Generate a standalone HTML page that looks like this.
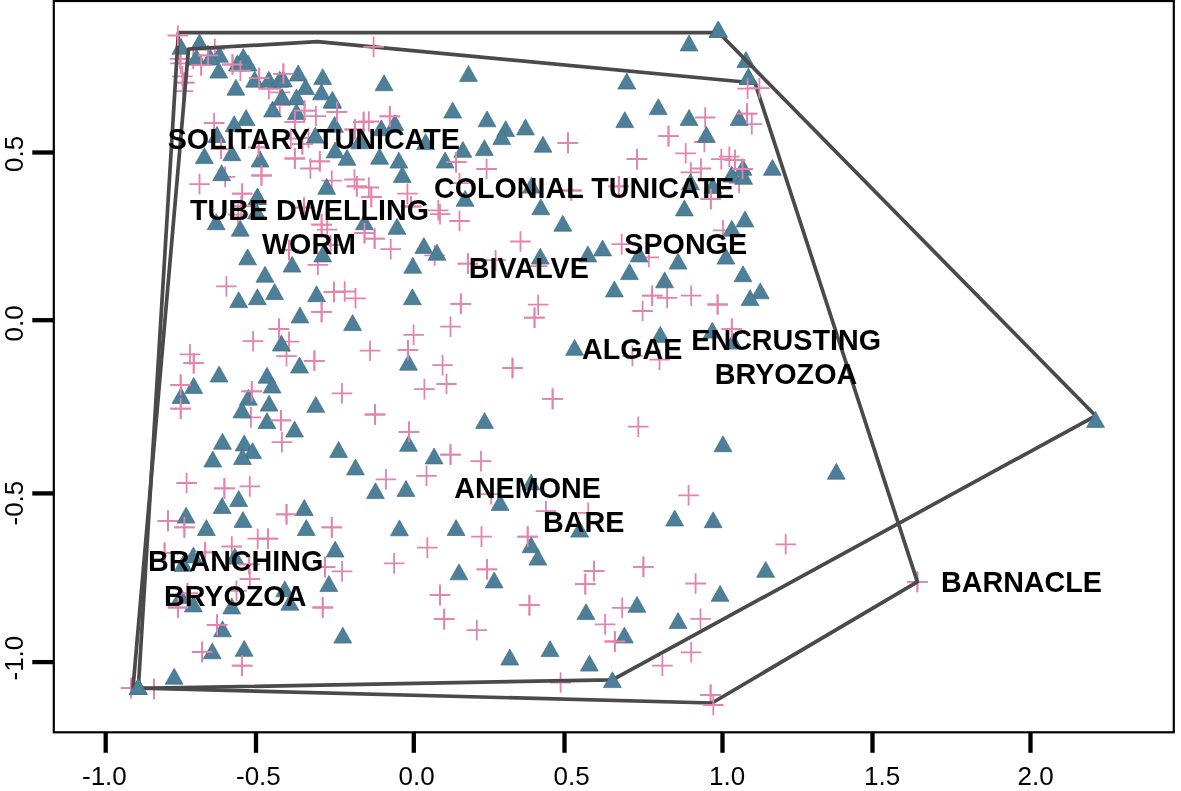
<!DOCTYPE html>
<html lang="en"><head><meta charset="utf-8"><title>Ordination plot</title>
<style>html,body{margin:0;padding:0;background:#fff}svg{display:block}text{font-family:"Liberation Sans",Arial,sans-serif}.ax{font-size:26px;fill:#000}.lb{font-size:28.7px;font-weight:bold;fill:#000}</style></head><body>
<svg width="1181" height="791" viewBox="0 0 1181 791">

<g>
<rect width="1181" height="791" fill="#fff"/>
<g stroke="#e483ab" stroke-width="1.8" fill="none">
<path d="M204.5 49.1h20.6M214.8 38.8v20.6"/>
<path d="M197.7 55.4h20.6M208.0 45.1v20.6"/>
<path d="M182.9 58.8h20.6M193.2 48.5v20.6"/>
<path d="M169.8 58.8h20.6M180.1 48.5v20.6"/>
<path d="M170.4 63.4h20.6M180.7 53.1v20.6"/>
<path d="M190.9 65.1h20.6M201.2 54.8v20.6"/>
<path d="M172.1 76.4h20.6M182.4 66.1v20.6"/>
<path d="M173.8 82.7h20.6M184.1 72.4v20.6"/>
<path d="M172.7 91.2h20.6M183.0 80.9v20.6"/>
<path d="M222.2 64.5h20.6M232.5 54.2v20.6"/>
<path d="M248.9 78.1h20.6M259.2 67.8v20.6"/>
<path d="M258.6 88.9h20.6M268.9 78.6v20.6"/>
<path d="M273.1 73.8h20.6M283.4 63.5v20.6"/>
<path d="M269.7 92.4h20.6M280.0 82.1v20.6"/>
<path d="M203.8 123.0h20.6M214.1 112.7v20.6"/>
<path d="M210.8 148.8h20.6M221.1 138.5v20.6"/>
<path d="M248.3 147.3h20.6M258.6 137.0v20.6"/>
<path d="M189.2 184.1h20.6M199.5 173.8v20.6"/>
<path d="M214.8 176.9h20.6M225.1 166.6v20.6"/>
<path d="M251.2 175.5h20.6M261.5 165.2v20.6"/>
<path d="M231.9 193.7h20.6M242.2 183.4v20.6"/>
<path d="M269.4 105.0h20.6M279.7 94.7v20.6"/>
<path d="M305.6 116.1h20.6M315.9 105.8v20.6"/>
<path d="M326.6 111.8h20.6M336.9 101.5v20.6"/>
<path d="M294.2 110.7h20.6M304.5 100.4v20.6"/>
<path d="M284.5 121.8h20.6M294.8 111.5v20.6"/>
<path d="M379.5 116.4h20.6M389.8 106.1v20.6"/>
<path d="M358.5 121.5h20.6M368.8 111.2v20.6"/>
<path d="M353.3 122.1h20.6M363.6 111.8v20.6"/>
<path d="M344.5 129.5h20.6M354.8 119.2v20.6"/>
<path d="M280.5 138.6h20.6M290.8 128.3v20.6"/>
<path d="M292.1 144.2h20.6M302.4 133.9v20.6"/>
<path d="M284.5 158.5h20.6M294.8 148.2v20.6"/>
<path d="M309.5 161.3h20.6M319.8 151.0v20.6"/>
<path d="M300.1 168.5h20.6M310.4 158.2v20.6"/>
<path d="M321.5 180.7h20.6M331.8 170.4v20.6"/>
<path d="M344.2 179.5h20.6M354.5 169.2v20.6"/>
<path d="M346.5 186.3h20.6M356.8 176.0v20.6"/>
<path d="M358.5 187.5h20.6M368.8 177.2v20.6"/>
<path d="M397.1 193.7h20.6M407.4 183.4v20.6"/>
<path d="M298.2 138.0h20.6M308.5 127.7v20.6"/>
<path d="M557.6 142.9h20.6M567.9 132.6v20.6"/>
<path d="M694.9 117.5h20.6M705.2 107.2v20.6"/>
<path d="M736.7 113.6h20.6M747.0 103.3v20.6"/>
<path d="M741.5 124.2h20.6M751.8 113.9v20.6"/>
<path d="M658.2 136.1h20.6M668.5 125.8v20.6"/>
<path d="M694.1 142.0h20.6M704.4 131.7v20.6"/>
<path d="M445.8 162.2h20.6M456.1 151.9v20.6"/>
<path d="M476.3 169.0h20.6M486.6 158.7v20.6"/>
<path d="M449.2 183.2h20.6M459.5 172.9v20.6"/>
<path d="M561.0 190.5h20.6M571.3 180.2v20.6"/>
<path d="M428.0 210.3h20.6M438.3 200.0v20.6"/>
<path d="M429.7 214.2h20.6M440.0 203.9v20.6"/>
<path d="M449.2 221.0h20.6M459.5 210.7v20.6"/>
<path d="M626.7 159.2h20.6M637.0 148.9v20.6"/>
<path d="M675.4 153.3h20.6M685.7 143.0v20.6"/>
<path d="M711.0 159.2h20.6M721.3 148.9v20.6"/>
<path d="M719.0 156.7h20.6M729.3 146.4v20.6"/>
<path d="M724.6 160.0h20.6M734.9 149.7v20.6"/>
<path d="M732.2 169.0h20.6M742.5 158.7v20.6"/>
<path d="M690.7 168.5h20.6M701.0 158.2v20.6"/>
<path d="M680.5 172.4h20.6M690.8 162.1v20.6"/>
<path d="M728.8 182.9h20.6M739.1 172.6v20.6"/>
<path d="M700.5 199.0h20.6M710.8 188.7v20.6"/>
<path d="M608.5 186.3h20.6M618.8 176.0v20.6"/>
<path d="M712.7 230.3h20.6M723.0 220.0v20.6"/>
<path d="M216.1 286.4h20.6M226.4 276.1v20.6"/>
<path d="M268.6 328.8h20.6M278.9 318.5v20.6"/>
<path d="M278.7 250.0h20.6M289.0 239.7v20.6"/>
<path d="M231.0 206.2h20.6M241.3 195.9v20.6"/>
<path d="M227.8 214.6h20.6M238.1 204.3v20.6"/>
<path d="M307.6 264.8h20.6M317.9 254.5v20.6"/>
<path d="M311.3 311.9h20.6M321.6 301.6v20.6"/>
<path d="M311.3 224.6h20.6M321.6 214.3v20.6"/>
<path d="M316.9 229.7h20.6M327.2 219.4v20.6"/>
<path d="M320.3 245.0h20.6M330.6 234.7v20.6"/>
<path d="M293.7 207.5h20.6M304.0 197.2v20.6"/>
<path d="M354.2 233.1h20.6M364.5 222.8v20.6"/>
<path d="M364.3 238.7h20.6M374.6 228.4v20.6"/>
<path d="M380.4 249.2h20.6M390.7 238.9v20.6"/>
<path d="M361.0 197.0h20.6M371.3 186.7v20.6"/>
<path d="M400.8 206.5h20.6M411.1 196.2v20.6"/>
<path d="M323.7 292.0h20.6M334.0 281.7v20.6"/>
<path d="M334.4 291.5h20.6M344.7 281.2v20.6"/>
<path d="M345.2 298.3h20.6M355.5 288.0v20.6"/>
<path d="M242.8 341.2h20.6M253.1 330.9v20.6"/>
<path d="M278.7 341.7h20.6M289.0 331.4v20.6"/>
<path d="M276.2 356.1h20.6M286.5 345.8v20.6"/>
<path d="M304.1 360.8h20.6M314.4 350.5v20.6"/>
<path d="M179.7 354.4h20.6M190.0 344.1v20.6"/>
<path d="M183.4 363.2h20.6M193.7 352.9v20.6"/>
<path d="M170.4 384.9h20.6M180.7 374.6v20.6"/>
<path d="M170.4 408.6h20.6M180.7 398.3v20.6"/>
<path d="M241.5 391.3h20.6M251.8 381.0v20.6"/>
<path d="M240.6 417.4h20.6M250.9 407.1v20.6"/>
<path d="M270.6 420.4h20.6M280.9 410.1v20.6"/>
<path d="M271.6 442.1h20.6M281.9 431.8v20.6"/>
<path d="M331.7 393.4h20.6M342.0 383.1v20.6"/>
<path d="M359.8 350.7h20.6M370.1 340.4v20.6"/>
<path d="M364.7 414.5h20.6M375.0 404.2v20.6"/>
<path d="M397.7 350.2h20.6M408.0 339.9v20.6"/>
<path d="M403.3 334.9h20.6M413.6 324.6v20.6"/>
<path d="M398.7 431.8h20.6M409.0 421.5v20.6"/>
<path d="M176.3 483.0h20.6M186.6 472.7v20.6"/>
<path d="M214.1 488.4h20.6M224.4 478.1v20.6"/>
<path d="M239.5 486.4h20.6M249.8 476.1v20.6"/>
<path d="M157.7 520.9h20.6M168.0 510.6v20.6"/>
<path d="M174.1 527.4h20.6M184.4 517.1v20.6"/>
<path d="M276.2 514.3h20.6M286.5 504.0v20.6"/>
<path d="M247.4 538.7h20.6M257.7 528.4v20.6"/>
<path d="M257.6 538.7h20.6M267.9 528.4v20.6"/>
<path d="M221.5 546.5h20.6M231.8 536.2v20.6"/>
<path d="M154.3 552.8h20.6M164.6 542.5v20.6"/>
<path d="M194.9 552.4h20.6M205.2 542.1v20.6"/>
<path d="M238.9 564.3h20.6M249.2 554.0v20.6"/>
<path d="M239.5 579.0h20.6M249.8 568.7v20.6"/>
<path d="M226.2 590.9h20.6M236.5 580.6v20.6"/>
<path d="M177.1 593.4h20.6M187.4 583.1v20.6"/>
<path d="M321.5 527.4h20.6M331.8 517.1v20.6"/>
<path d="M314.7 567.1h20.6M325.0 556.8v20.6"/>
<path d="M331.8 571.4h20.6M342.1 561.1v20.6"/>
<path d="M375.7 479.4h20.6M386.0 469.1v20.6"/>
<path d="M383.8 563.4h20.6M394.1 553.1v20.6"/>
<path d="M167.8 607.5h20.6M178.1 597.2v20.6"/>
<path d="M206.8 624.9h20.6M217.1 614.6v20.6"/>
<path d="M191.9 652.0h20.6M202.2 641.7v20.6"/>
<path d="M231.8 665.6h20.6M242.1 655.3v20.6"/>
<path d="M120.9 688.1h20.6M131.2 677.8v20.6"/>
<path d="M143.6 689.0h20.6M153.9 678.7v20.6"/>
<path d="M312.4 607.5h20.6M322.7 597.2v20.6"/>
<path d="M510.2 241.5h20.6M520.5 231.2v20.6"/>
<path d="M457.7 263.6h20.6M468.0 253.3v20.6"/>
<path d="M485.3 260.2h20.6M495.6 249.9v20.6"/>
<path d="M424.3 255.4h20.6M434.6 245.1v20.6"/>
<path d="M527.1 266.1h20.6M537.4 255.8v20.6"/>
<path d="M450.5 303.9h20.6M460.8 293.6v20.6"/>
<path d="M527.9 304.7h20.6M538.2 294.4v20.6"/>
<path d="M524.2 317.7h20.6M534.5 307.4v20.6"/>
<path d="M440.2 326.7h20.6M450.5 316.4v20.6"/>
<path d="M432.3 365.2h20.6M442.6 354.9v20.6"/>
<path d="M502.2 368.0h20.6M512.5 357.7v20.6"/>
<path d="M611.4 244.1h20.6M621.7 233.8v20.6"/>
<path d="M638.5 257.3h20.6M648.8 247.0v20.6"/>
<path d="M641.9 295.7h20.6M652.2 285.4v20.6"/>
<path d="M656.8 297.9h20.6M667.1 287.6v20.6"/>
<path d="M680.9 295.7h20.6M691.2 285.4v20.6"/>
<path d="M707.3 304.5h20.6M717.6 294.2v20.6"/>
<path d="M632.3 311.0h20.6M642.6 300.7v20.6"/>
<path d="M721.5 328.8h20.6M731.8 318.5v20.6"/>
<path d="M649.2 359.6h20.6M659.5 349.3v20.6"/>
<path d="M622.1 355.9h20.6M632.4 345.6v20.6"/>
<path d="M414.1 389.1h20.6M424.4 378.8v20.6"/>
<path d="M436.2 384.0h20.6M446.5 373.7v20.6"/>
<path d="M542.3 398.9h20.6M552.6 388.6v20.6"/>
<path d="M440.2 454.6h20.6M450.5 444.3v20.6"/>
<path d="M470.7 461.1h20.6M481.0 450.8v20.6"/>
<path d="M416.2 475.8h20.6M426.5 465.5v20.6"/>
<path d="M480.9 494.1h20.6M491.2 483.8v20.6"/>
<path d="M628.0 426.7h20.6M638.3 416.4v20.6"/>
<path d="M678.3 495.3h20.6M688.6 485.0v20.6"/>
<path d="M535.6 511.2h20.6M545.9 500.9v20.6"/>
<path d="M577.9 512.9h20.6M588.2 502.6v20.6"/>
<path d="M417.0 547.6h20.6M427.3 537.3v20.6"/>
<path d="M471.2 536.6h20.6M481.5 526.3v20.6"/>
<path d="M517.4 536.6h20.6M527.7 526.3v20.6"/>
<path d="M476.6 569.3h20.6M486.9 559.0v20.6"/>
<path d="M583.8 571.0h20.6M594.1 560.7v20.6"/>
<path d="M575.0 584.1h20.6M585.3 573.8v20.6"/>
<path d="M429.7 595.1h20.6M440.0 584.8v20.6"/>
<path d="M519.1 605.2h20.6M529.4 594.9v20.6"/>
<path d="M433.9 619.1h20.6M444.2 608.8v20.6"/>
<path d="M466.5 630.1h20.6M476.8 619.8v20.6"/>
<path d="M594.8 624.4h20.6M605.1 614.1v20.6"/>
<path d="M604.5 641.5h20.6M614.8 631.2v20.6"/>
<path d="M775.4 544.3h20.6M785.7 534.0v20.6"/>
<path d="M633.1 566.8h20.6M643.4 556.5v20.6"/>
<path d="M685.3 583.5h20.6M695.6 573.2v20.6"/>
<path d="M611.9 607.8h20.6M622.2 597.5v20.6"/>
<path d="M690.2 618.8h20.6M700.5 608.5v20.6"/>
<path d="M907.1 581.9h20.6M917.4 571.6v20.6"/>
<path d="M550.3 682.5h20.6M560.6 672.2v20.6"/>
<path d="M680.9 652.3h20.6M691.2 642.0v20.6"/>
<path d="M652.1 665.6h20.6M662.4 655.3v20.6"/>
<path d="M700.3 694.9h20.6M710.6 684.6v20.6"/>
</g>
<g fill="#4d8098" stroke="#3f6f86" stroke-width="0.7">
<path d="M180.9 38.3l8.9 15.9h-17.9z"/>
<path d="M199.5 34.1l8.9 15.9h-17.9z"/>
<path d="M219.4 46.3l8.9 15.9h-17.9z"/>
<path d="M210.3 49.2l8.9 15.9h-17.9z"/>
<path d="M196.4 49.2l8.9 15.9h-17.9z"/>
<path d="M218.8 62.2l8.9 15.9h-17.9z"/>
<path d="M243.3 48.6l8.9 15.9h-17.9z"/>
<path d="M237.4 55.1l8.9 15.9h-17.9z"/>
<path d="M248.1 55.1l8.9 15.9h-17.9z"/>
<path d="M235.9 79.3l8.9 15.9h-17.9z"/>
<path d="M254.7 71.3l8.9 15.9h-17.9z"/>
<path d="M268.9 71.3l8.9 15.9h-17.9z"/>
<path d="M279.7 71.3l8.9 15.9h-17.9z"/>
<path d="M298.2 65.1l8.9 15.9h-17.9z"/>
<path d="M322.7 68.7l8.9 15.9h-17.9z"/>
<path d="M384.1 74.8l8.9 15.9h-17.9z"/>
<path d="M305.6 78.7l8.9 15.9h-17.9z"/>
<path d="M321.5 83.9l8.9 15.9h-17.9z"/>
<path d="M332.4 92.4l8.9 15.9h-17.9z"/>
<path d="M296.5 89.0l8.9 15.9h-17.9z"/>
<path d="M283.4 71.0l8.9 15.9h-17.9z"/>
<path d="M246.1 109.6l8.9 15.9h-17.9z"/>
<path d="M234.2 115.8l8.9 15.9h-17.9z"/>
<path d="M272.6 101.0l8.9 15.9h-17.9z"/>
<path d="M216.9 126.6l8.9 15.9h-17.9z"/>
<path d="M204.4 147.7l8.9 15.9h-17.9z"/>
<path d="M231.9 144.8l8.9 15.9h-17.9z"/>
<path d="M260.1 151.1l8.9 15.9h-17.9z"/>
<path d="M221.7 164.8l8.9 15.9h-17.9z"/>
<path d="M257.5 188.6l8.9 15.9h-17.9z"/>
<path d="M296.5 103.7l8.9 15.9h-17.9z"/>
<path d="M332.4 91.4l8.9 15.9h-17.9z"/>
<path d="M334.6 116.4l8.9 15.9h-17.9z"/>
<path d="M315.3 127.2l8.9 15.9h-17.9z"/>
<path d="M381.3 119.8l8.9 15.9h-17.9z"/>
<path d="M394.9 114.7l8.9 15.9h-17.9z"/>
<path d="M335.2 142.0l8.9 15.9h-17.9z"/>
<path d="M347.1 149.4l8.9 15.9h-17.9z"/>
<path d="M379.6 148.3l8.9 15.9h-17.9z"/>
<path d="M398.9 152.2l8.9 15.9h-17.9z"/>
<path d="M402.3 166.5l8.9 15.9h-17.9z"/>
<path d="M326.7 178.4l8.9 15.9h-17.9z"/>
<path d="M359.7 132.9l8.9 15.9h-17.9z"/>
<path d="M468.5 65.5l8.9 15.9h-17.9z"/>
<path d="M452.7 102.1l8.9 15.9h-17.9z"/>
<path d="M487.1 110.9l8.9 15.9h-17.9z"/>
<path d="M505.7 120.7l8.9 15.9h-17.9z"/>
<path d="M525.5 119.0l8.9 15.9h-17.9z"/>
<path d="M501.8 128.7l8.9 15.9h-17.9z"/>
<path d="M543.0 136.3l8.9 15.9h-17.9z"/>
<path d="M484.4 139.7l8.9 15.9h-17.9z"/>
<path d="M462.9 141.4l8.9 15.9h-17.9z"/>
<path d="M425.6 133.7l8.9 15.9h-17.9z"/>
<path d="M717.9 21.5l8.9 15.9h-17.9z"/>
<path d="M689.1 35.0l8.9 15.9h-17.9z"/>
<path d="M745.9 51.6l8.9 15.9h-17.9z"/>
<path d="M748.4 68.5l8.9 15.9h-17.9z"/>
<path d="M626.8 73.1l8.9 15.9h-17.9z"/>
<path d="M658.3 98.7l8.9 15.9h-17.9z"/>
<path d="M624.8 111.7l8.9 15.9h-17.9z"/>
<path d="M689.1 109.5l8.9 15.9h-17.9z"/>
<path d="M739.1 109.5l8.9 15.9h-17.9z"/>
<path d="M706.4 126.4l8.9 15.9h-17.9z"/>
<path d="M445.1 152.1l8.9 15.9h-17.9z"/>
<path d="M531.5 177.2l8.9 15.9h-17.9z"/>
<path d="M465.1 190.4l8.9 15.9h-17.9z"/>
<path d="M540.8 198.8l8.9 15.9h-17.9z"/>
<path d="M562.8 215.3l8.9 15.9h-17.9z"/>
<path d="M743.0 159.4l8.9 15.9h-17.9z"/>
<path d="M731.8 166.2l8.9 15.9h-17.9z"/>
<path d="M743.7 168.4l8.9 15.9h-17.9z"/>
<path d="M772.4 159.4l8.9 15.9h-17.9z"/>
<path d="M690.5 173.8l8.9 15.9h-17.9z"/>
<path d="M712.8 177.5l8.9 15.9h-17.9z"/>
<path d="M684.4 200.0l8.9 15.9h-17.9z"/>
<path d="M745.0 211.0l8.9 15.9h-17.9z"/>
<path d="M731.8 220.3l8.9 15.9h-17.9z"/>
<path d="M216.2 213.8l8.9 15.9h-17.9z"/>
<path d="M240.3 220.3l8.9 15.9h-17.9z"/>
<path d="M257.4 188.2l8.9 15.9h-17.9z"/>
<path d="M256.5 203.1l8.9 15.9h-17.9z"/>
<path d="M247.6 248.9l8.9 15.9h-17.9z"/>
<path d="M292.1 256.2l8.9 15.9h-17.9z"/>
<path d="M265.0 266.3l8.9 15.9h-17.9z"/>
<path d="M274.6 283.6l8.9 15.9h-17.9z"/>
<path d="M257.4 288.8l8.9 15.9h-17.9z"/>
<path d="M238.7 291.7l8.9 15.9h-17.9z"/>
<path d="M300.0 307.0l8.9 15.9h-17.9z"/>
<path d="M316.6 285.8l8.9 15.9h-17.9z"/>
<path d="M322.7 246.0l8.9 15.9h-17.9z"/>
<path d="M364.5 213.8l8.9 15.9h-17.9z"/>
<path d="M397.0 218.4l8.9 15.9h-17.9z"/>
<path d="M352.6 314.6l8.9 15.9h-17.9z"/>
<path d="M412.8 257.3l8.9 15.9h-17.9z"/>
<path d="M412.4 288.8l8.9 15.9h-17.9z"/>
<path d="M281.4 335.1l8.9 15.9h-17.9z"/>
<path d="M299.5 357.1l8.9 15.9h-17.9z"/>
<path d="M219.1 366.1l8.9 15.9h-17.9z"/>
<path d="M267.0 367.3l8.9 15.9h-17.9z"/>
<path d="M272.1 377.1l8.9 15.9h-17.9z"/>
<path d="M193.7 377.5l8.9 15.9h-17.9z"/>
<path d="M181.0 387.6l8.9 15.9h-17.9z"/>
<path d="M248.4 389.3l8.9 15.9h-17.9z"/>
<path d="M269.1 395.2l8.9 15.9h-17.9z"/>
<path d="M242.0 402.0l8.9 15.9h-17.9z"/>
<path d="M315.8 396.4l8.9 15.9h-17.9z"/>
<path d="M267.0 412.7l8.9 15.9h-17.9z"/>
<path d="M294.6 421.1l8.9 15.9h-17.9z"/>
<path d="M222.5 433.3l8.9 15.9h-17.9z"/>
<path d="M244.2 435.0l8.9 15.9h-17.9z"/>
<path d="M252.6 442.7l8.9 15.9h-17.9z"/>
<path d="M242.5 448.6l8.9 15.9h-17.9z"/>
<path d="M212.8 451.1l8.9 15.9h-17.9z"/>
<path d="M408.5 354.3l8.9 15.9h-17.9z"/>
<path d="M338.6 441.5l8.9 15.9h-17.9z"/>
<path d="M408.5 435.4l8.9 15.9h-17.9z"/>
<path d="M238.7 490.6l8.9 15.9h-17.9z"/>
<path d="M222.1 497.6l8.9 15.9h-17.9z"/>
<path d="M186.1 507.2l8.9 15.9h-17.9z"/>
<path d="M243.0 511.5l8.9 15.9h-17.9z"/>
<path d="M206.4 519.6l8.9 15.9h-17.9z"/>
<path d="M304.3 499.6l8.9 15.9h-17.9z"/>
<path d="M306.3 519.6l8.9 15.9h-17.9z"/>
<path d="M193.4 547.0l8.9 15.9h-17.9z"/>
<path d="M183.2 555.5l8.9 15.9h-17.9z"/>
<path d="M234.9 548.2l8.9 15.9h-17.9z"/>
<path d="M284.8 580.9l8.9 15.9h-17.9z"/>
<path d="M180.7 587.7l8.9 15.9h-17.9z"/>
<path d="M355.5 459.0l8.9 15.9h-17.9z"/>
<path d="M375.5 482.7l8.9 15.9h-17.9z"/>
<path d="M406.0 480.5l8.9 15.9h-17.9z"/>
<path d="M399.5 519.9l8.9 15.9h-17.9z"/>
<path d="M335.2 541.1l8.9 15.9h-17.9z"/>
<path d="M328.9 575.5l8.9 15.9h-17.9z"/>
<path d="M138.3 678.5l8.9 15.9h-17.9z"/>
<path d="M174.2 668.3l8.9 15.9h-17.9z"/>
<path d="M212.3 642.9l8.9 15.9h-17.9z"/>
<path d="M244.2 640.4l8.9 15.9h-17.9z"/>
<path d="M222.5 620.9l8.9 15.9h-17.9z"/>
<path d="M193.4 596.0l8.9 15.9h-17.9z"/>
<path d="M231.8 598.0l8.9 15.9h-17.9z"/>
<path d="M289.9 594.3l8.9 15.9h-17.9z"/>
<path d="M342.8 627.2l8.9 15.9h-17.9z"/>
<path d="M423.9 237.5l8.9 15.9h-17.9z"/>
<path d="M437.0 244.3l8.9 15.9h-17.9z"/>
<path d="M540.3 248.2l8.9 15.9h-17.9z"/>
<path d="M587.9 246.0l8.9 15.9h-17.9z"/>
<path d="M602.6 240.0l8.9 15.9h-17.9z"/>
<path d="M614.4 281.0l8.9 15.9h-17.9z"/>
<path d="M574.6 339.4l8.9 15.9h-17.9z"/>
<path d="M639.2 246.0l8.9 15.9h-17.9z"/>
<path d="M678.1 253.2l8.9 15.9h-17.9z"/>
<path d="M726.0 248.2l8.9 15.9h-17.9z"/>
<path d="M629.5 263.7l8.9 15.9h-17.9z"/>
<path d="M664.6 271.9l8.9 15.9h-17.9z"/>
<path d="M743.0 265.8l8.9 15.9h-17.9z"/>
<path d="M760.3 282.9l8.9 15.9h-17.9z"/>
<path d="M750.1 289.7l8.9 15.9h-17.9z"/>
<path d="M660.3 326.4l8.9 15.9h-17.9z"/>
<path d="M712.3 322.2l8.9 15.9h-17.9z"/>
<path d="M733.2 333.2l8.9 15.9h-17.9z"/>
<path d="M484.6 412.5l8.9 15.9h-17.9z"/>
<path d="M434.1 448.0l8.9 15.9h-17.9z"/>
<path d="M531.1 474.0l8.9 15.9h-17.9z"/>
<path d="M723.0 435.8l8.9 15.9h-17.9z"/>
<path d="M836.3 463.3l8.9 15.9h-17.9z"/>
<path d="M500.1 494.5l8.9 15.9h-17.9z"/>
<path d="M456.1 519.6l8.9 15.9h-17.9z"/>
<path d="M531.1 536.8l8.9 15.9h-17.9z"/>
<path d="M537.9 549.2l8.9 15.9h-17.9z"/>
<path d="M579.7 521.2l8.9 15.9h-17.9z"/>
<path d="M459.0 563.9l8.9 15.9h-17.9z"/>
<path d="M494.2 572.0l8.9 15.9h-17.9z"/>
<path d="M586.0 603.7l8.9 15.9h-17.9z"/>
<path d="M674.7 510.1l8.9 15.9h-17.9z"/>
<path d="M713.2 511.8l8.9 15.9h-17.9z"/>
<path d="M765.7 561.4l8.9 15.9h-17.9z"/>
<path d="M720.1 585.4l8.9 15.9h-17.9z"/>
<path d="M637.0 596.4l8.9 15.9h-17.9z"/>
<path d="M678.1 612.5l8.9 15.9h-17.9z"/>
<path d="M624.4 627.1l8.9 15.9h-17.9z"/>
<path d="M509.8 649.1l8.9 15.9h-17.9z"/>
<path d="M550.1 640.7l8.9 15.9h-17.9z"/>
<path d="M589.4 655.2l8.9 15.9h-17.9z"/>
<path d="M282.0 88.6l8.9 15.9h-17.9z"/>
</g>
<g stroke="#e483ab" stroke-width="1.8" fill="none">
<path d="M197.7 55.4h20.6M208.0 45.1v20.6"/>
<path d="M190.9 65.1h20.6M201.2 54.8v20.6"/>
<path d="M173.8 82.7h20.6M184.1 72.4v20.6"/>
<path d="M222.2 64.5h20.6M232.5 54.2v20.6"/>
<path d="M248.9 78.1h20.6M259.2 67.8v20.6"/>
<path d="M273.1 73.8h20.6M283.4 63.5v20.6"/>
<path d="M210.8 148.8h20.6M221.1 138.5v20.6"/>
<path d="M248.3 147.3h20.6M258.6 137.0v20.6"/>
<path d="M251.2 175.5h20.6M261.5 165.2v20.6"/>
<path d="M231.9 193.7h20.6M242.2 183.4v20.6"/>
<path d="M326.6 111.8h20.6M336.9 101.5v20.6"/>
<path d="M294.2 110.7h20.6M304.5 100.4v20.6"/>
<path d="M284.5 121.8h20.6M294.8 111.5v20.6"/>
<path d="M379.5 116.4h20.6M389.8 106.1v20.6"/>
<path d="M353.3 122.1h20.6M363.6 111.8v20.6"/>
<path d="M344.5 129.5h20.6M354.8 119.2v20.6"/>
<path d="M292.1 144.2h20.6M302.4 133.9v20.6"/>
<path d="M284.5 158.5h20.6M294.8 148.2v20.6"/>
<path d="M309.5 161.3h20.6M319.8 151.0v20.6"/>
<path d="M346.5 186.3h20.6M356.8 176.0v20.6"/>
<path d="M557.6 142.9h20.6M567.9 132.6v20.6"/>
<path d="M736.7 113.6h20.6M747.0 103.3v20.6"/>
<path d="M658.2 136.1h20.6M668.5 125.8v20.6"/>
<path d="M445.8 162.2h20.6M456.1 151.9v20.6"/>
<path d="M561.0 190.5h20.6M571.3 180.2v20.6"/>
<path d="M626.7 159.2h20.6M637.0 148.9v20.6"/>
<path d="M724.6 160.0h20.6M734.9 149.7v20.6"/>
<path d="M732.2 169.0h20.6M742.5 158.7v20.6"/>
<path d="M700.5 199.0h20.6M710.8 188.7v20.6"/>
<path d="M608.5 186.3h20.6M618.8 176.0v20.6"/>
<path d="M268.6 328.8h20.6M278.9 318.5v20.6"/>
<path d="M278.7 250.0h20.6M289.0 239.7v20.6"/>
<path d="M311.3 311.9h20.6M321.6 301.6v20.6"/>
<path d="M311.3 224.6h20.6M321.6 214.3v20.6"/>
<path d="M293.7 207.5h20.6M304.0 197.2v20.6"/>
<path d="M354.2 233.1h20.6M364.5 222.8v20.6"/>
<path d="M364.3 238.7h20.6M374.6 228.4v20.6"/>
<path d="M361.0 197.0h20.6M371.3 186.7v20.6"/>
<path d="M400.8 206.5h20.6M411.1 196.2v20.6"/>
<path d="M323.7 292.0h20.6M334.0 281.7v20.6"/>
<path d="M304.1 360.8h20.6M314.4 350.5v20.6"/>
<path d="M183.4 363.2h20.6M193.7 352.9v20.6"/>
<path d="M170.4 384.9h20.6M180.7 374.6v20.6"/>
<path d="M170.4 408.6h20.6M180.7 398.3v20.6"/>
<path d="M241.5 391.3h20.6M251.8 381.0v20.6"/>
<path d="M270.6 420.4h20.6M280.9 410.1v20.6"/>
<path d="M364.7 414.5h20.6M375.0 404.2v20.6"/>
<path d="M397.7 350.2h20.6M408.0 339.9v20.6"/>
<path d="M398.7 431.8h20.6M409.0 421.5v20.6"/>
<path d="M214.1 488.4h20.6M224.4 478.1v20.6"/>
<path d="M157.7 520.9h20.6M168.0 510.6v20.6"/>
<path d="M174.1 527.4h20.6M184.4 517.1v20.6"/>
<path d="M276.2 514.3h20.6M286.5 504.0v20.6"/>
<path d="M257.6 538.7h20.6M267.9 528.4v20.6"/>
<path d="M154.3 552.8h20.6M164.6 542.5v20.6"/>
<path d="M194.9 552.4h20.6M205.2 542.1v20.6"/>
<path d="M238.9 564.3h20.6M249.2 554.0v20.6"/>
<path d="M177.1 593.4h20.6M187.4 583.1v20.6"/>
<path d="M321.5 527.4h20.6M331.8 517.1v20.6"/>
<path d="M314.7 567.1h20.6M325.0 556.8v20.6"/>
<path d="M167.8 607.5h20.6M178.1 597.2v20.6"/>
<path d="M206.8 624.9h20.6M217.1 614.6v20.6"/>
<path d="M191.9 652.0h20.6M202.2 641.7v20.6"/>
<path d="M231.8 665.6h20.6M242.1 655.3v20.6"/>
<path d="M120.9 688.1h20.6M131.2 677.8v20.6"/>
<path d="M143.6 689.0h20.6M153.9 678.7v20.6"/>
<path d="M312.4 607.5h20.6M322.7 597.2v20.6"/>
<path d="M457.7 263.6h20.6M468.0 253.3v20.6"/>
<path d="M450.5 303.9h20.6M460.8 293.6v20.6"/>
<path d="M524.2 317.7h20.6M534.5 307.4v20.6"/>
<path d="M502.2 368.0h20.6M512.5 357.7v20.6"/>
<path d="M641.9 295.7h20.6M652.2 285.4v20.6"/>
<path d="M707.3 304.5h20.6M717.6 294.2v20.6"/>
<path d="M721.5 328.8h20.6M731.8 318.5v20.6"/>
<path d="M542.3 398.9h20.6M552.6 388.6v20.6"/>
<path d="M440.2 454.6h20.6M450.5 444.3v20.6"/>
<path d="M517.4 536.6h20.6M527.7 526.3v20.6"/>
<path d="M476.6 569.3h20.6M486.9 559.0v20.6"/>
<path d="M583.8 571.0h20.6M594.1 560.7v20.6"/>
<path d="M575.0 584.1h20.6M585.3 573.8v20.6"/>
<path d="M429.7 595.1h20.6M440.0 584.8v20.6"/>
<path d="M519.1 605.2h20.6M529.4 594.9v20.6"/>
<path d="M433.9 619.1h20.6M444.2 608.8v20.6"/>
<path d="M604.5 641.5h20.6M614.8 631.2v20.6"/>
<path d="M633.1 566.8h20.6M643.4 556.5v20.6"/>
<path d="M907.1 581.9h20.6M917.4 571.6v20.6"/>
<path d="M700.3 694.9h20.6M710.6 684.6v20.6"/>
</g>
<g fill="none" stroke="#4a4a4a" stroke-width="3.7" stroke-linejoin="round">
<path d="M178.4 32.7 L718.6 32.5 L1095.6 415.8 L612.4 679.8 L138.3 688.4 Z"/>
<path d="M188.5 49 L317.6 41.7 L755 83 L917.4 581.9 L712 703 L133 688 Z"/>
</g>
<g fill="#4d8098" stroke="#3f6f86" stroke-width="0.7">
<path d="M718.6 21.4l8.9 15.9h-17.9z"/>
<path d="M1095.6 411.5l8.9 15.9h-17.9z"/>
<path d="M612.4 671.7l8.9 15.9h-17.9z"/>
<path d="M138.3 678.5l8.9 15.9h-17.9z"/>
<path d="M748.4 68.5l8.9 15.9h-17.9z"/>
</g>
<g stroke="#e483ab" stroke-width="1.8" fill="none">
<path d="M167.6 35.5h20.6M177.9 25.2v20.6"/>
<path d="M230.1 70.7h20.6M240.4 60.4v20.6"/>
<path d="M363.3 46.9h20.6M373.6 36.6v20.6"/>
<path d="M737.3 88.7h20.6M747.6 78.4v20.6"/>
<path d="M749.1 88.2h20.6M759.4 77.9v20.6"/>
<path d="M703.0 705.0h20.6M713.3 694.7v20.6"/>
</g>
<rect x="53.8" y="1" width="1120" height="731.3" fill="none" stroke="#000" stroke-width="2.2"/>
<g stroke="#000" stroke-width="4.3">
<path d="M105.7 732v20.8"/>
<path d="M256.0 732v20.8"/>
<path d="M413.8 732v20.8"/>
<path d="M564.5 732v20.8"/>
<path d="M722.5 732v20.8"/>
<path d="M872.5 732v20.8"/>
<path d="M1030.5 732v20.8"/>
<path d="M53.8 152.5h-21.5"/>
<path d="M53.8 320.2h-21.5"/>
<path d="M53.8 493.4h-21.5"/>
<path d="M53.8 662.1h-21.5"/>
</g>
<g class="ax">
<text x="82.0" y="785">-1.0</text>
<text x="236.0" y="785">-0.5</text>
<text x="398.5" y="785">0.0</text>
<text x="553.5" y="785">0.5</text>
<text x="709.0" y="785">1.0</text>
<text x="864.0" y="785">1.5</text>
<text x="1017.5" y="785">2.0</text>
<text transform="translate(23 172.0) rotate(-90)">0.5</text>
<text transform="translate(23 341.5) rotate(-90)">0.0</text>
<text transform="translate(23 525.5) rotate(-90)">-0.5</text>
<text transform="translate(23 680.5) rotate(-90)">-1.0</text>
</g>
<g class="lb">
<text x="167.7" y="148.6">SOLITARY TUNICATE</text>
<text x="434.0" y="198.2">COLONIAL TUNICATE</text>
<text x="190.0" y="219.8">TUBE DWELLING</text>
<text x="262.0" y="253.5">WORM</text>
<text x="624.3" y="254.0">SPONGE</text>
<text x="468.8" y="277.8">BIVALVE</text>
<text x="582.0" y="359.0">ALGAE</text>
<text x="691.3" y="349.5">ENCRUSTING</text>
<text x="714.8" y="384.2">BRYOZOA</text>
<text x="454.2" y="498.0">ANEMONE</text>
<text x="543.0" y="532.0">BARE</text>
<text x="148.0" y="571.0">BRANCHING</text>
<text x="164.0" y="605.5">BRYOZOA</text>
<text x="941.0" y="592.0">BARNACLE</text>
</g>
</g></svg></body></html>
